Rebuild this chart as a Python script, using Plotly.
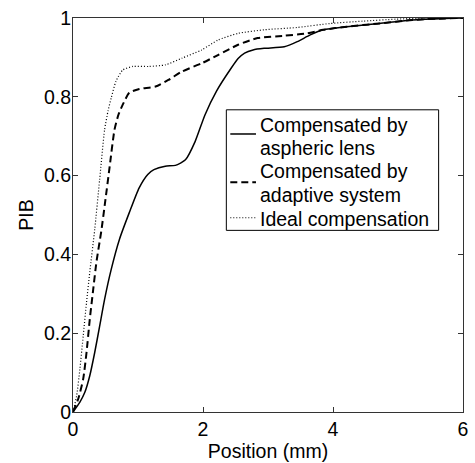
import plotly.graph_objects as go

# Series: Compensated by aspheric lens (solid)
asph_x = [0, 0.106, 0.182, 0.258, 0.334, 0.41, 0.486, 0.588, 0.714, 0.866, 1.018, 1.15, 1.245,
          1.42, 1.575, 1.73, 1.88, 2.03, 2.21, 2.435, 2.54, 2.64, 2.77, 2.94, 3.25, 3.45, 3.65,
          3.85, 4.21, 4.71, 5.22, 5.73, 6.0]
asph_y = [0, 0.025, 0.05, 0.092, 0.151, 0.218, 0.286, 0.362, 0.438, 0.506, 0.569, 0.603, 0.615,
          0.624, 0.626, 0.64, 0.687, 0.754, 0.815, 0.873, 0.897, 0.911, 0.919, 0.923, 0.927, 0.94,
          0.957, 0.97, 0.978, 0.986, 0.995, 0.999, 1.0]

# Series: Compensated by adaptive system (dashed)
adap_x = [0, 0.08, 0.157, 0.208, 0.258, 0.31, 0.36, 0.436, 0.5, 0.562, 0.638, 0.70, 0.765,
          0.866, 1.02, 1.27, 1.47, 1.675, 1.98, 2.23, 2.54, 2.84, 3.25, 3.6, 3.85, 4.21, 4.71,
          5.22, 5.73, 6.0]
adap_y = [0, 0.033, 0.084, 0.151, 0.235, 0.31, 0.38, 0.46, 0.54, 0.62, 0.716, 0.755, 0.78,
          0.81, 0.82, 0.826, 0.843, 0.864, 0.885, 0.906, 0.932, 0.949, 0.955, 0.961, 0.97, 0.978,
          0.986, 0.995, 0.999, 1.0]

# Series: Ideal compensation (dotted)
ideal_x = [0, 0.056, 0.106, 0.157, 0.208, 0.258, 0.334, 0.41, 0.486, 0.54, 0.588, 0.66, 0.765,
           0.916, 1.17, 1.42, 1.675, 1.98, 2.23, 2.54, 2.94, 3.45, 3.95, 4.46, 4.97, 5.47, 6.0]
ideal_y = [0, 0.041, 0.109, 0.193, 0.278, 0.355, 0.463, 0.59, 0.716, 0.765, 0.797, 0.839, 0.868,
           0.877, 0.877, 0.881, 0.898, 0.919, 0.944, 0.961, 0.97, 0.976, 0.986, 0.992, 0.997,
           1.0, 1.0]

legend_lines = [["Compensated by", "aspheric lens"],
                ["Compensated by", "adaptive system"],
                ["Ideal compensation"]]

x_ticks = [0, 2, 4, 6]
y_ticks = [0, 0.2, 0.4, 0.6, 0.8, 1]
y_tick_text = ["0", "0.2", "0.4", "0.6", "0.8", "1"]

FONT = "Liberation Sans, Arial, Helvetica, sans-serif"
FS = 19.5

styles = [dict(color="black", width=1.5, dash="solid"),
          dict(color="black", width=2, dash="7px,4px"),
          dict(color="black", width=1.2, dash="1px,2px")]

fig = go.Figure()
for xs, ys, st, lab in zip([asph_x, adap_x, ideal_x], [asph_y, adap_y, ideal_y], styles,
                           legend_lines):
    fig.add_trace(go.Scatter(x=xs, y=ys, mode="lines", name=" ".join(lab), showlegend=False,
                             line=dict(shape="spline", smoothing=0.6, **st)))

axis_common = dict(showline=True, linecolor="#333333", linewidth=1, mirror="ticks",
                   ticks="inside", ticklen=5, tickcolor="#333333", showgrid=False,
                   zeroline=False, tickfont=dict(family=FONT, size=FS, color="black"))

fig.update_xaxes(range=[0, 6], tickvals=x_ticks, ticktext=[str(v) for v in x_ticks],
                 title=dict(text="Position (mm)", font=dict(family=FONT, size=FS, color="black"),
                            standoff=2),
                 **axis_common)
fig.update_yaxes(range=[0, 1], tickvals=y_ticks, ticktext=y_tick_text, ticklabelstandoff=-3,
                 title=dict(text="PIB", font=dict(family=FONT, size=FS, color="black"),
                            standoff=5),
                 **axis_common)

# Legend box drawn in axis coordinates (MATLAB-style legend)
box = dict(x0=2.359, x1=5.625, y0=0.461, y1=0.767)
fig.add_shape(type="rect", xref="x", yref="y", layer="above",
              line=dict(color="black", width=1), fillcolor="white", **box)
sample_x = (2.42, 2.815)
sample_y = [0.7056, 0.583, 0.493]
for st, sy in zip(styles, sample_y):
    fig.add_shape(type="line", xref="x", yref="y", layer="above",
                  x0=sample_x[0], x1=sample_x[1], y0=sy, y1=sy, line=st)
text_x = 2.841
text_y = [[0.729, 0.670], [0.611, 0.552], [0.489]]
for lines, ys in zip(legend_lines, text_y):
    for t, ty in zip(lines, ys):
        fig.add_annotation(x=text_x, y=ty, xref="x", yref="y", text=t, showarrow=False,
                           xanchor="left", yanchor="middle",
                           font=dict(family=FONT, size=FS, color="black"))

fig.update_layout(
    width=475, height=463,
    margin=dict(l=73, r=7, t=18, b=50),
    plot_bgcolor="white", paper_bgcolor="white",
    font=dict(family=FONT, size=FS, color="black"),
    showlegend=False,
)

fig.write_html("out.html")
